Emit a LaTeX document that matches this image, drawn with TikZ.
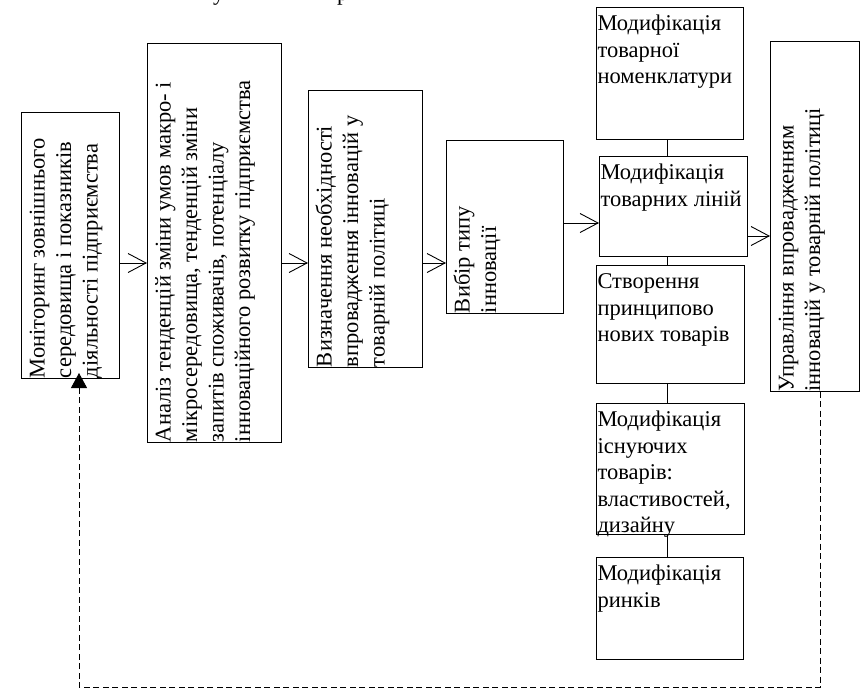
\documentclass[tikz,border=0pt]{standalone}
\usepackage{fontspec}
\setmainfont{Liberation Serif}
\usetikzlibrary{arrows.meta,calc}
\newcommand{\myst}{\rule{0pt}{23.5pt}}
\begin{document}
\begin{tikzpicture}[x=1pt,y=-1pt,
  box/.style={draw,line width=0.9pt,inner sep=0pt,outer sep=0pt},
  txt/.style={inner sep=0pt,outer sep=0pt,align=left,font=\fontsize{22.5}{26.5}\selectfont},
  vtxt/.style={txt,rotate=90,anchor=north west},
  htxt/.style={txt,anchor=north west},
  flow/.style={line width=0.9pt,-{Straight Barb[length=18pt,width=19pt,line width=0.9pt]}},
  link/.style={line width=0.9pt},
  fb/.style={line width=0.9pt,dash pattern=on 6pt off 3.5pt,-{Triangle[length=15pt,width=16pt]},shorten >=-5pt}
]
\useasboundingbox (0,0) rectangle (861,688);
\begin{scope}
\clip (0,0) rectangle (861,688);
\node[txt,anchor=base west] (frag1) at (213,1) {у};
\node[txt,anchor=base west] (frag2) at (337,1) {р};
\end{scope}

% boxes
\node[box,minimum width=98pt,minimum height=266pt] (b1) at (70,245) {};
\node[box,minimum width=134pt,minimum height=399pt] (b2) at (214,242.5) {};
\node[box,minimum width=114pt,minimum height=277pt] (b3) at (365,228.5) {};
\node[box,minimum width=117pt,minimum height=173pt] (b4) at (504.5,226.5) {};
\node[box,minimum width=147pt,minimum height=132pt] (b5) at (669.5,73) {};
\node[box,minimum width=148pt,minimum height=100pt] (b6) at (673,206) {};
\node[box,minimum width=148pt,minimum height=118pt] (b7) at (670,324) {};
\node[box,minimum width=89pt,minimum height=350.5pt] (b8) at (814.5,216.25) {};
\node[box,minimum width=148pt,minimum height=131pt] (b9) at (670,468.5) {};
\node[box,minimum width=147pt,minimum height=102pt] (b10) at (669.5,608) {};

% texts
\node[vtxt] (t1) at (b1.south west) {\myst Моніторинг зовнішнього\\середовища і показників\\діяльності підприємства};
\node[vtxt] (t2) at (b2.south west) {\myst Аналіз тенденцій зміни умов макро- і\\мікросередовища, тенденцій зміни\\запитів споживачів, потенціалу\\інноваційного розвитку підприємства};
\node[vtxt] (t3) at (b3.south west) {\myst Визначення необхідності\\впровадження інновацій у\\товарній політиці};
\node[vtxt] (t4) at (b4.south west) {\myst Вибір типу\\інновації};
\node[vtxt] (t8) at (b8.south west) {\myst Управління впровадженням\\інновацій у товарній політиці};
\node[htxt] (t5) at ($(b5.north west)+(1.5,0)$) {\myst Модифікація\\товарної\\номенклатури};
\node[htxt] (t6) at ($(b6.north west)+(1.5,0)$) {\myst Модифікація\\товарних ліній};
\node[htxt] (t7) at ($(b7.north west)+(1.5,0)$) {\myst Створення\\принципово\\нових товарів};
\node[htxt] (t9) at ($(b9.north west)+(1.5,0)$) {\myst Модифікація\\існуючих\\товарів:\\властивостей,\\дизайну};
\node[htxt] (t10) at ($(b10.north west)+(1.5,0)$) {\myst Модифікація\\ринків};

% helper coordinates
\coordinate (ya) at (0,263);
\coordinate (yb) at (0,223);
\coordinate (yc) at (0,236);
\coordinate (cx) at (667,0);
\coordinate (fr) at (820,687);
\coordinate (fl) at (79,687);

% flow arrows
\draw[flow] (b1.east |- ya) -- (b2.west |- ya);
\draw[flow] (b2.east |- ya) -- (b3.west |- ya);
\draw[flow] (b3.east |- ya) -- (b4.west |- ya);
\draw[flow] (b4.east |- yb) -- (b6.west |- yb);
\draw[flow] (b6.east |- yc) -- (b8.west |- yc);

% stack links
\draw[link] (b5.south -| cx) -- (b6.north -| cx);
\draw[link] (b6.south -| cx) -- (b7.north -| cx);
\draw[link] (b7.south -| cx) -- (b9.north -| cx);
\draw[link] (b9.south -| cx) -- (b10.north -| cx);

% feedback
\draw[fb] (b8.south -| fr) -- (fr) -- (fl) -- (b1.south -| fl);
\end{tikzpicture}
\end{document}
